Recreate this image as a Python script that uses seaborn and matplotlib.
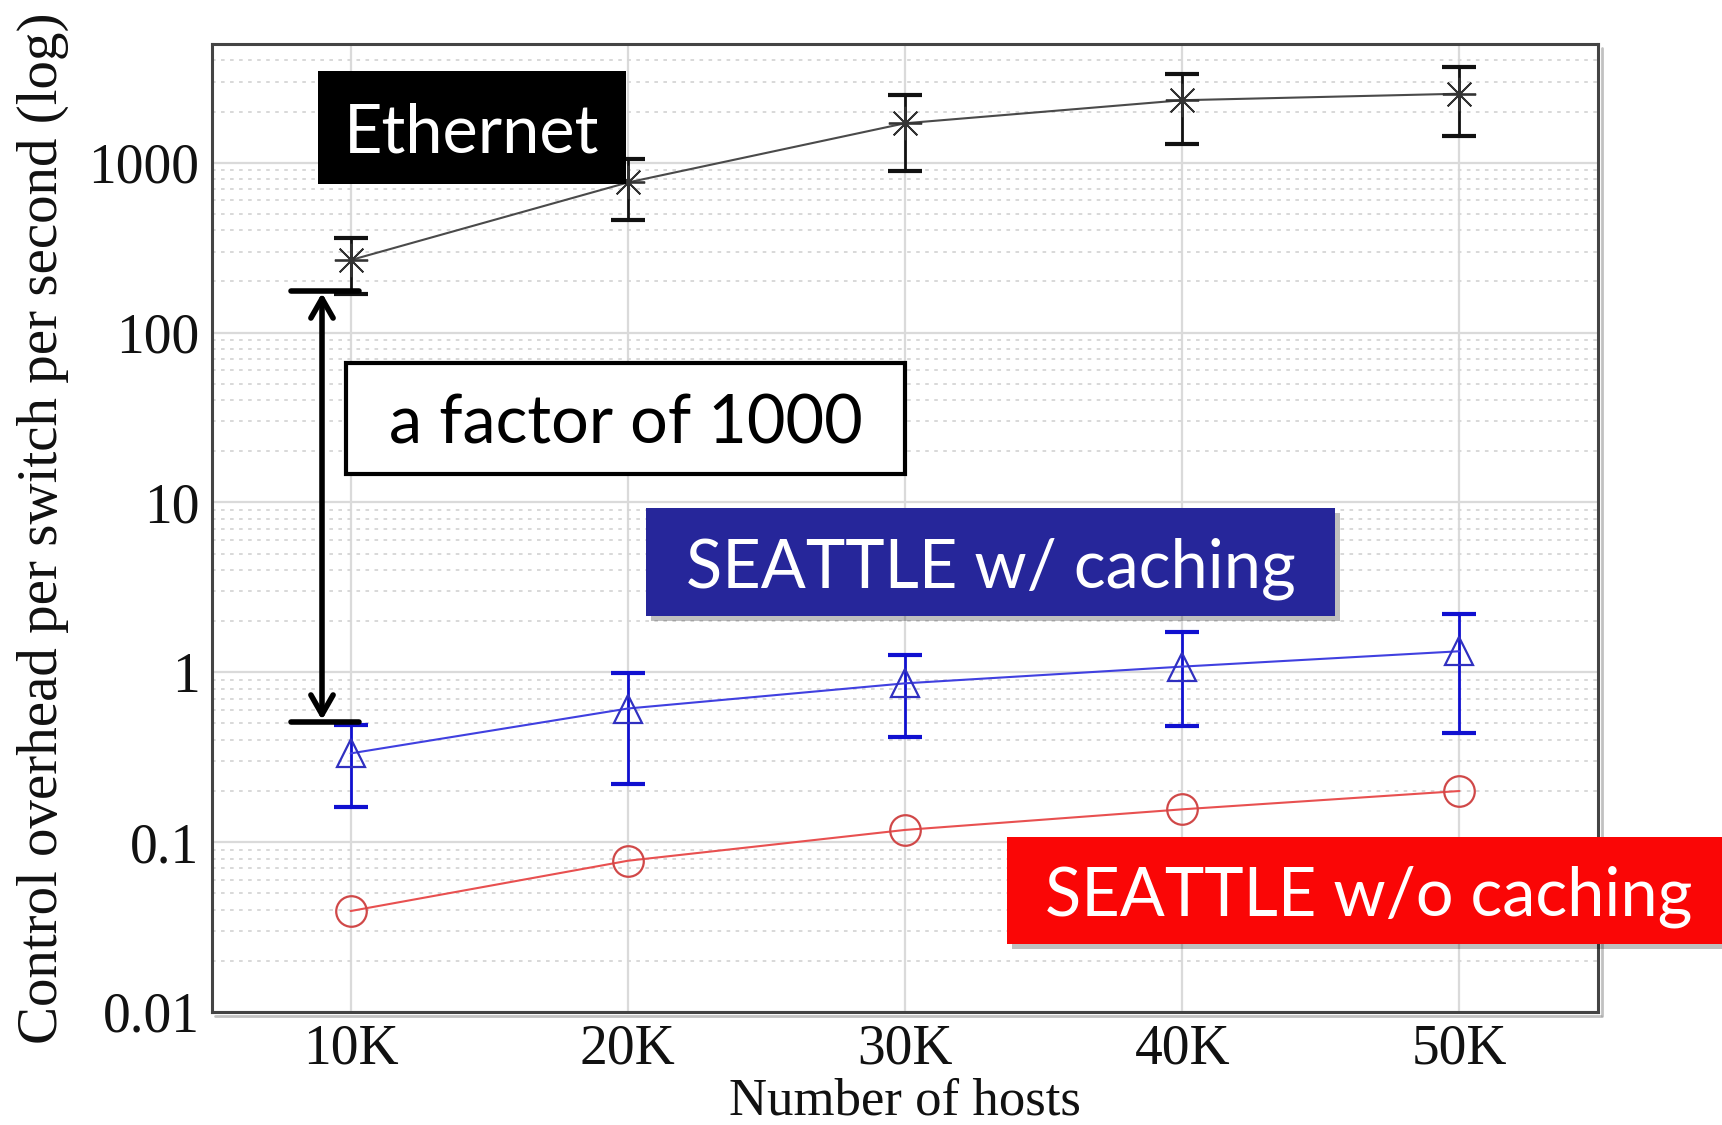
import matplotlib
matplotlib.use('Agg')
import matplotlib.pyplot as plt
from matplotlib.patches import Rectangle, FancyArrowPatch
from matplotlib.lines import Line2D
from matplotlib.ticker import LogLocator, NullFormatter
import pandas as pd
import seaborn as sns

# number of hosts (thousands)
hosts = [10, 20, 30, 40, 50]
host_labels = ['10K', '20K', '30K', '40K', '50K']

# control overhead per switch per second
ethernet = [267, 765, 1707, 2333, 2548]
ethernet_lo = [168, 462, 888, 1287, 1429]
ethernet_hi = [359, 1046, 2512, 3335, 3640]

cached = [0.333, 0.612, 0.861, 1.08, 1.33]
cached_lo = [0.161, 0.22, 0.416, 0.483, 0.442]
cached_hi = [0.49, 0.985, 1.27, 1.73, 2.2]

nocache = [0.0393, 0.0777, 0.118, 0.156, 0.2]

y_ticks = [0.01, 0.1, 1, 10, 100, 1000]
y_labels = ['0.01', '0.1', '1', '10', '100', '1000']

sns.set_theme(style='white')
plt.rcParams['font.family'] = ['Liberation Serif', 'DejaVu Serif']

W, H = 1722, 1125
fig = plt.figure(figsize=(W / 100, H / 100), dpi=100)
ax = fig.add_axes([212 / W, 1 - 1012 / H, (1598 - 212) / W, (1012 - 44) / H])


def fx(px):
    return px / W


def fy(py):
    return 1 - py / H


df = pd.DataFrame({'hosts': hosts, 'eth': ethernet, 'cache': cached, 'nocache': nocache})

# error bars
ax.errorbar(hosts, ethernet,
            yerr=[[m - l for m, l in zip(ethernet, ethernet_lo)],
                  [h - m for m, h in zip(ethernet, ethernet_hi)]],
            fmt='none', ecolor='#111111', elinewidth=2, capsize=12, capthick=3, zorder=3)
ax.errorbar(hosts, cached,
            yerr=[[m - l for m, l in zip(cached, cached_lo)],
                  [h - m for m, h in zip(cached, cached_hi)]],
            fmt='none', ecolor='#1010d0', elinewidth=2, capsize=12, capthick=3, zorder=3)

# lines with markers
sns.lineplot(data=df, x='hosts', y='eth', ax=ax, color='#4a4a4a', lw=1.5,
             marker=(8, 2, 0), markersize=24, markeredgewidth=1.3,
             markeredgecolor='#333333', markerfacecolor='none', zorder=4)
sns.lineplot(data=df, x='hosts', y='cache', ax=ax, color='#4040e0', lw=1.5,
             marker='^', markersize=20, markeredgewidth=1.6,
             markeredgecolor='#3030c0', markerfacecolor='none', zorder=4)
sns.lineplot(data=df, x='hosts', y='nocache', ax=ax, color='#e85050', lw=1.5,
             marker='o', markersize=22, markeredgewidth=1.6,
             markeredgecolor='#d04848', markerfacecolor='none', zorder=4)

ax.set_yscale('log')
ax.set_ylim(0.01, 5000)
ax.set_xlim(5, 55)
ax.set_yticks(y_ticks)
ax.set_yticklabels(y_labels)
ax.yaxis.set_minor_locator(LogLocator(base=10, subs=range(2, 10)))
ax.yaxis.set_minor_formatter(NullFormatter())
ax.set_xticks(hosts)
ax.set_xticklabels(host_labels)

ax.grid(True, which='major', axis='both', color='#dadada', lw=1.6, ls='-', zorder=0)
ax.grid(True, which='minor', axis='y', color='#d6d6d6', lw=1.3, ls=(0, (2, 3)), zorder=0)
ax.set_axisbelow(True)

ax.tick_params(axis='both', which='both', length=0, labelsize=40, colors='#111111')
ax.tick_params(axis='y', pad=9)
ax.tick_params(axis='x', pad=8)

for s in ax.spines.values():
    s.set_color('#444444')
    s.set_linewidth(2.2)

# soft shadow along the bottom and right frame
fig.add_artist(Line2D([fx(215), fx(1601)], [fy(1016), fy(1016)], color='#999999', lw=2,
                      alpha=0.6, transform=fig.transFigure, zorder=1))
fig.add_artist(Line2D([fx(1602), fx(1602)], [fy(48), fy(1016)], color='#999999', lw=2,
                      alpha=0.6, transform=fig.transFigure, zorder=1))

ax.set_xlabel('Number of hosts', fontsize=38, color='#111111')
ax.set_ylabel('Control overhead per switch per second (log)', fontsize=41, color='#111111')
ax.xaxis.set_label_coords(0.5, -0.068)
ax.yaxis.set_label_coords(-0.103, 0.5)

# annotation boxes (figure pixel coordinates)
box_font = ['Lato', 'DejaVu Sans']


def label_box(x0, y0, x1, y1, text, face, textcolor, edge=None, shadow=False, size=48):
    if shadow:
        fig.add_artist(Rectangle((fx(x0 + 5), fy(y1 + 5)), fx(x1 - x0), (y1 - y0) / H,
                                 transform=fig.transFigure, facecolor='#000000',
                                 alpha=0.25, edgecolor='none', zorder=9))
    fig.add_artist(Rectangle((fx(x0), fy(y1)), fx(x1 - x0), (y1 - y0) / H,
                             transform=fig.transFigure, facecolor=face,
                             edgecolor=edge if edge else 'none',
                             linewidth=3 if edge else 0, zorder=10))
    fig.text(fx((x0 + x1) / 2), fy((y0 + y1) / 2), text, ha='center', va='center_baseline',
             color=textcolor, fontsize=size, family=box_font, zorder=11)


label_box(318, 71, 626, 184, 'Ethernet', 'black', 'white')
label_box(346, 363, 905, 474, 'a factor of 1000', 'white', 'black', edge='black')
label_box(646, 508, 1335, 616, 'SEATTLE w/ caching', '#26269a', 'white', shadow=True)
label_box(1007, 837, 1730, 944, 'SEATTLE w/o caching', '#fa0606', 'white', shadow=True)

# the "factor of 1000" arrow
fig.add_artist(Line2D([fx(291), fx(359)], [fy(291), fy(291)], color='black', lw=4,
                      transform=fig.transFigure, zorder=10))
fig.add_artist(Line2D([fx(291), fx(359)], [fy(722), fy(722)], color='black', lw=4,
                      transform=fig.transFigure, zorder=10))
fig.add_artist(FancyArrowPatch((fx(322), fy(293)), (fx(322), fy(720)),
                               arrowstyle='<->,head_length=14,head_width=8',
                               mutation_scale=1, lw=4, color='black',
                               shrinkA=0, shrinkB=0, transform=fig.transFigure, zorder=10))

fig.savefig('out.png', dpi=100)
